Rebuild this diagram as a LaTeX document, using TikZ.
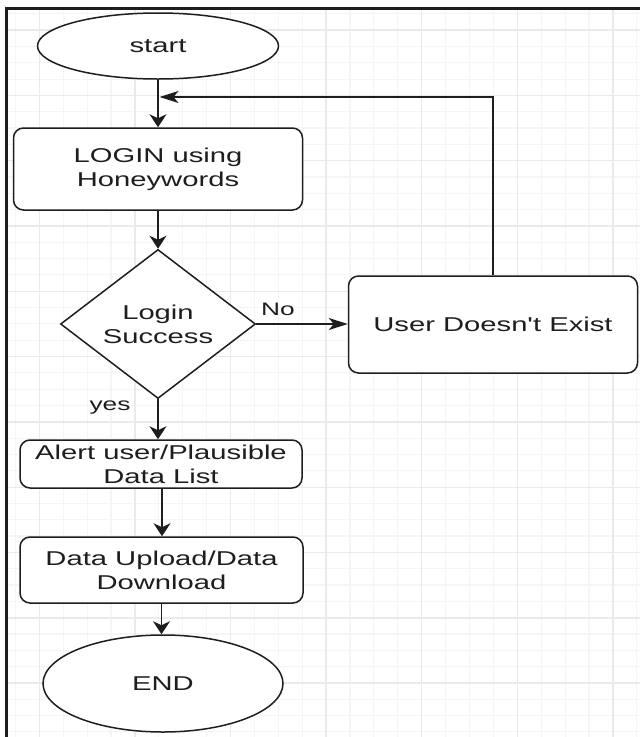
\documentclass[tikz,border=0pt]{standalone}
\usepackage{fontspec}
\setmainfont{Liberation Sans}
\newfontfamily\dfont[FakeStretch=1.46]{Liberation Sans}
\usetikzlibrary{shapes.geometric,arrows.meta}
\definecolor{ink}{HTML}{1E1E1E}
\definecolor{gridminor}{HTML}{F5F5F5}
\definecolor{gridmajor}{HTML}{EAEAEA}
\begin{document}
\begin{tikzpicture}[x=1pt,y=-1pt,
  shapebase/.style={draw=ink, line width=1.5pt, fill=white, inner sep=0pt, text=ink,
    font=\dfont\fontsize{20}{24}\selectfont, align=center},
  terminal/.style={shapebase, ellipse},
  procbox/.style={shapebase, rectangle, rounded corners=10pt},
  decision/.style={shapebase, diamond},
  vflow/.style={draw=ink, line width=1.5pt, -{Stealth[length=13pt,width=17pt,inset=4pt]}},
  hflow/.style={draw=ink, line width=1.5pt, -{Stealth[length=19pt,width=12pt,inset=5pt]}},
  elabel/.style={text=ink, font=\dfont\fontsize{18}{20}\selectfont, inner sep=0pt},
  minorline/.style={draw=gridminor, line width=1.1pt},
  majorline/.style={draw=gridmajor, line width=1.4pt},
  frameline/.style={draw=ink, line width=2.7pt, line join=miter}]
\useasboundingbox[fill=white] (0,0) rectangle (640,737);
% grid
\foreach \i in {0,...,26} {\draw[minorline] ({15.4+23.9*\i},10) -- ({15.4+23.9*\i},737);}
\foreach \i in {0,...,44} {\draw[minorline] (8,{13.8+16.32*\i}) -- (640,{13.8+16.32*\i});}
\foreach \i in {0,...,6} {\draw[majorline] ({39.3+95.6*\i},10) -- ({39.3+95.6*\i},737);}
\foreach \i in {0,...,11} {\draw[majorline] (8,{30.1+65.3*\i}) -- (640,{30.1+65.3*\i});}
% frame
\draw[frameline] (6.3,737) -- (6.3,8.7) -- (640,8.7);
% nodes
\node[terminal, minimum width=241pt, minimum height=66pt] (start) at (158,46) {start};
\node[procbox, minimum width=289pt, minimum height=82pt] (login) at (158,169) {LOGIN using\\Honeywords};
\node[decision, minimum width=195pt, minimum height=130pt] (dec) at (158,324) {Login\\Success};
\node[procbox, minimum width=289pt, minimum height=97pt] (user) at (493,324.5) {User Doesn't Exist};
\node[procbox, minimum width=282pt, minimum height=48pt] (alert) at (161,464) {Alert user/Plausible\\Data List};
\node[procbox, minimum width=283pt, minimum height=66pt] (data) at (161.5,570) {Data Upload/Data\\Download};
\node[terminal, minimum width=240pt, minimum height=97pt] (end) at (163,683.5) {END};
\coordinate (join) at (159.5,97);
% connectors
\draw[vflow] (start.south) -- (login.north);
\draw[vflow] (login.south) -- (dec.north);
\draw[hflow] (dec.east) -- (dec.east -| user.west);
\draw[hflow] (user.north) |- (join);
\draw[vflow] (dec.south) -- (dec.south |- alert.north);
\draw[vflow] ([xshift=1pt]alert.south) -- ([xshift=1pt]alert.south |- data.north);
\draw[vflow] (data.south) -- (data.south |- end.north);
% labels
\node[elabel] (nolbl) at (278,309) {No};
\node[elabel] (yeslbl) at (110,408) {yes};
\end{tikzpicture}
\end{document}
